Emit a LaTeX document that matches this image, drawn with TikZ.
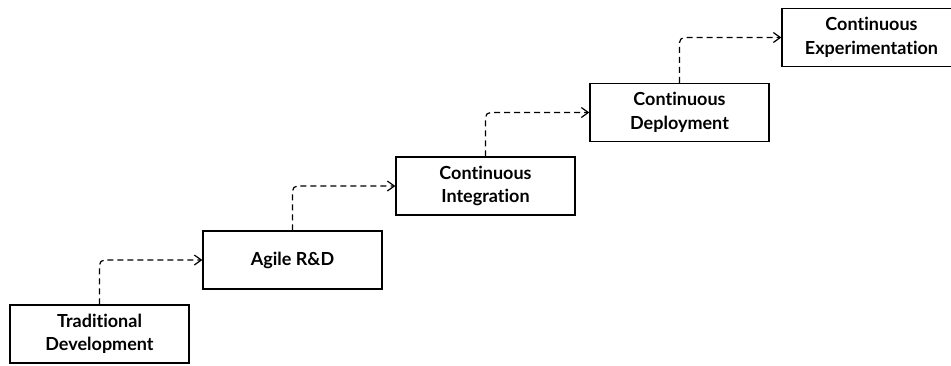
\documentclass[tikz,border=0pt]{standalone}
\usepackage{fontspec}
\setmainfont{Lato}[Ligatures=NoCommon]
\usetikzlibrary{arrows.meta}

\begin{document}
\begin{tikzpicture}[x=1pt,y=-1pt,
    stage/.style={draw,line width=1.3pt,minimum width=179pt,minimum height=58pt,
      align=center,font=\fontsize{18}{23.5}\selectfont\bfseries,inner sep=0pt},
    flow/.style={dash pattern=on 6pt off 4pt,line width=1.2pt,rounded corners=5pt,
      -{Straight Barb[length=7pt,width=10pt,line width=1.2pt]}}]
  \useasboundingbox (0,0) rectangle (951,365);
  \clip (0,0) rectangle (951,365);
  \node[stage] (trad)   at (99.5,334)  {Traditional\\Development};
  \node[stage] (agile)  at (292.5,260) {Agile R\&D};
  \node[stage] (integ)  at (485.5,186) {Continuous\\Integration};
  \node[stage] (deploy) at (679.5,112.5) {Continuous\\Deployment};
  \node[stage] (exper)  at (871.5,37.5) {Continuous\\Experimentation};
  \draw[flow] (trad.north)   |- (agile.west);
  \draw[flow] (agile.north)  |- (integ.west);
  \draw[flow] (integ.north)  |- (deploy.west);
  \draw[flow] (deploy.north) |- (exper.west);
\end{tikzpicture}
\end{document}
